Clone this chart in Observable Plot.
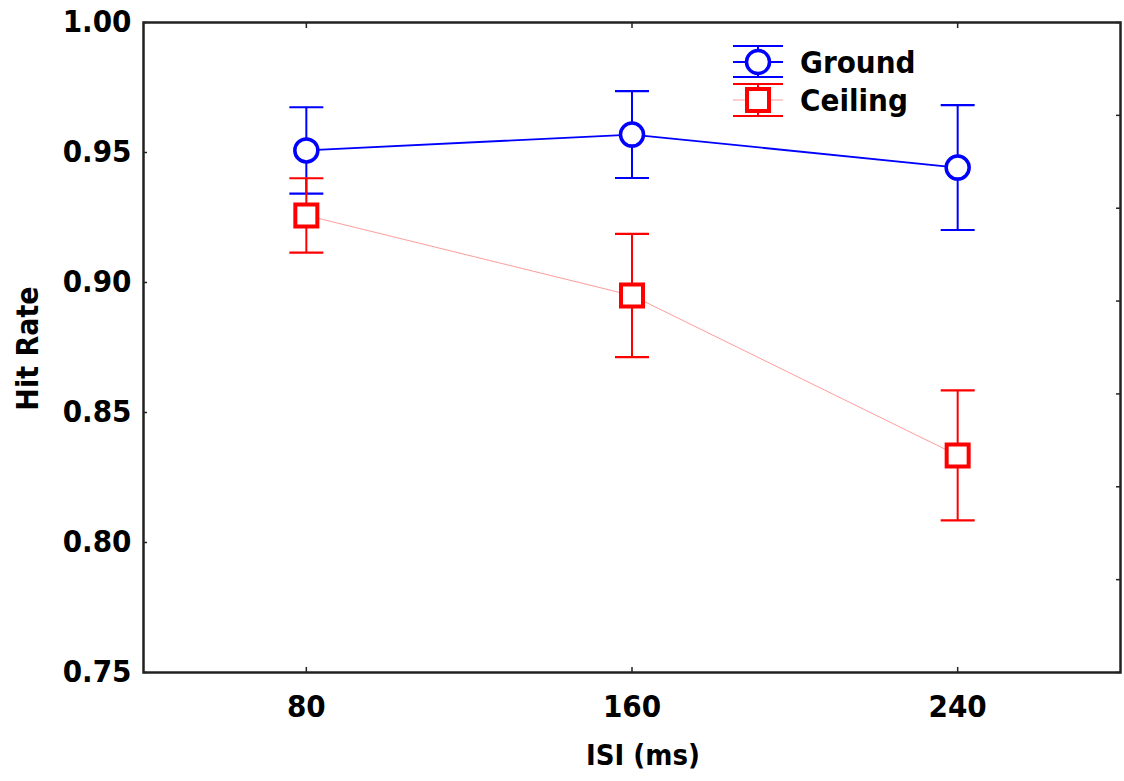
<!DOCTYPE html>
<html>
<head>
<meta charset="utf-8">
<script src="https://cdn.jsdelivr.net/npm/d3@7"></script>
<script src="https://cdn.jsdelivr.net/npm/@observablehq/plot@0.6"></script>
<style>
  html, body { margin: 0; padding: 0; background: white; }
  #chart { position: relative; width: 1124px; height: 781px; }
</style>
</head>
<body>
<div id="chart"></div>
<script>
// ---- Data ----
const isi = [80, 160, 240];
const groundMean = [0.9508, 0.9569, 0.9442];
const groundErr = [0.0166, 0.0167, 0.0240];
const ceilingMean = [0.9258, 0.8950, 0.8335];
const ceilingErr = [0.0143, 0.0237, 0.0250];
const seriesNames = ["Ground", "Ceiling"];
const xTicks = [80, 160, 240];
const yTicks = [0.75, 0.80, 0.85, 0.90, 0.95, 1.00];
const xTitle = "ISI (ms)";
const yTitle = "Hit Rate";

const BLUE = "#0000ff", RED = "#ff0000", PINK = "#ff9c9c";
const FONT = "'DejaVu Sans Condensed', 'DejaVu Sans', sans-serif";

const ground = isi.map((x, i) => ({x, y: groundMean[i], lo: groundMean[i] - groundErr[i], hi: groundMean[i] + groundErr[i]}));
const ceiling = isi.map((x, i) => ({x, y: ceilingMean[i], lo: ceilingMean[i] - ceilingErr[i], hi: ceilingMean[i] + ceilingErr[i]}));
// right-side minor ticks: 7 equal intervals of the y domain
const rightTicks = d3.range(8).map(k => 0.75 + k * 0.25 / 7);

const capSymbol = { draw(ctx) { ctx.moveTo(-17, 0); ctx.lineTo(17, 0); } };
const circleSymbol = { draw(ctx) { ctx.moveTo(11.5, 0); ctx.arc(0, 0, 11.5, 0, 2 * Math.PI); } };
const squareSymbol = { draw(ctx) { ctx.rect(-11, -11, 22, 22); } };

function errorMarks(data, color) {
  return [
    Plot.ruleX(data, {x: "x", y1: "lo", y2: "hi", stroke: color, strokeWidth: 2}),
    Plot.dot(data, {x: "x", y: "hi", symbol: capSymbol, stroke: color, strokeWidth: 2.2}),
    Plot.dot(data, {x: "x", y: "lo", symbol: capSymbol, stroke: color, strokeWidth: 2.2})
  ];
}

const plot = Plot.plot({
  width: 1124,
  height: 781,
  marginLeft: 143,
  marginRight: 4,
  marginTop: 22,
  marginBottom: 109,
  style: {fontFamily: FONT, background: "white"},
  x: {domain: [40, 280]},
  y: {domain: [0.75, 1.0]},
  marks: [
    Plot.lineY(ground, {x: "x", y: "y", stroke: BLUE, strokeWidth: 1.8}),
    Plot.lineY(ceiling, {x: "x", y: "y", stroke: PINK, strokeWidth: 1}),
    ...errorMarks(ground, BLUE),
    ...errorMarks(ceiling, RED),
    Plot.dot(ground, {x: "x", y: "y", symbol: circleSymbol, stroke: BLUE, fill: "white", strokeWidth: 3.5}),
    Plot.dot(ceiling, {x: "x", y: "y", symbol: squareSymbol, stroke: RED, fill: "white", strokeWidth: 4}),
    Plot.axisY(yTicks, {anchor: "left", tickSize: -4, tickPadding: 16, tickFormat: d3.format(".2f"), label: null,
      fontSize: 31, fontWeight: "bold", fill: "black", stroke: "#222", strokeWidth: 1.5}),
    Plot.axisY(rightTicks, {anchor: "right", tickSize: -5, tickFormat: () => "", label: null, stroke: "#222", strokeWidth: 1.5}),
    Plot.axisX(xTicks, {anchor: "bottom", tickSize: -5, tickPadding: 27, label: null,
      fontSize: 31, fontWeight: "bold", fill: "black", stroke: "#222", strokeWidth: 1.5}),
    Plot.axisX(xTicks, {anchor: "top", tickSize: -5, tickFormat: () => "", label: null, stroke: "#222", strokeWidth: 1.5}),
    Plot.frame({stroke: "#222", strokeWidth: 2.5}),
    Plot.text([xTitle], {frameAnchor: "bottom", dx: 11, dy: 83, lineAnchor: "middle", textAnchor: "middle",
      fontSize: 29, fontWeight: "bold", fill: "black"}),
    Plot.text([yTitle], {frameAnchor: "left", dx: -115, dy: 1, rotate: -90, textAnchor: "middle", lineAnchor: "middle",
      fontSize: 30, fontWeight: "bold", fill: "black"})
  ]
});

document.getElementById("chart").appendChild(plot);

// ---- Legend (inside plot, upper right) ----
const svg = d3.select(plot);
const lg = svg.append("g").attr("class", "legend");
const items = [
  {name: seriesNames[0], color: BLUE, mid: BLUE, cy: 62, top: 46, bot: 77, shape: "circle"},
  {name: seriesNames[1], color: RED, mid: PINK, cy: 100, top: 84, bot: 116, shape: "square"}
];
const sx0 = 733, sx1 = 783, scx = 758;
items.forEach(it => {
  const g = lg.append("g");
  g.append("line").attr("x1", sx0).attr("x2", sx1).attr("y1", it.cy).attr("y2", it.cy)
    .attr("stroke", it.mid).attr("stroke-width", it.shape === "circle" ? 2 : 1);
  g.append("line").attr("x1", scx).attr("x2", scx).attr("y1", it.top).attr("y2", it.bot)
    .attr("stroke", it.color).attr("stroke-width", 2);
  [it.top, it.bot].forEach(yy => g.append("line").attr("x1", sx0).attr("x2", sx1).attr("y1", yy).attr("y2", yy)
    .attr("stroke", it.color).attr("stroke-width", 2.2));
  if (it.shape === "circle") {
    g.append("circle").attr("cx", scx).attr("cy", it.cy).attr("r", 11.5)
      .attr("fill", "white").attr("stroke", it.color).attr("stroke-width", 3.5);
  } else {
    g.append("rect").attr("x", scx - 11).attr("y", it.cy - 11).attr("width", 22).attr("height", 22)
      .attr("fill", "white").attr("stroke", it.color).attr("stroke-width", 4);
  }
  g.append("text").attr("x", 800).attr("y", it.cy).attr("dy", "0.35em")
    .attr("text-anchor", "start")
    .attr("font-size", 31).attr("font-weight", "bold").attr("fill", "black")
    .attr("font-family", FONT).text(it.name);
});
</script>
</body>
</html>
